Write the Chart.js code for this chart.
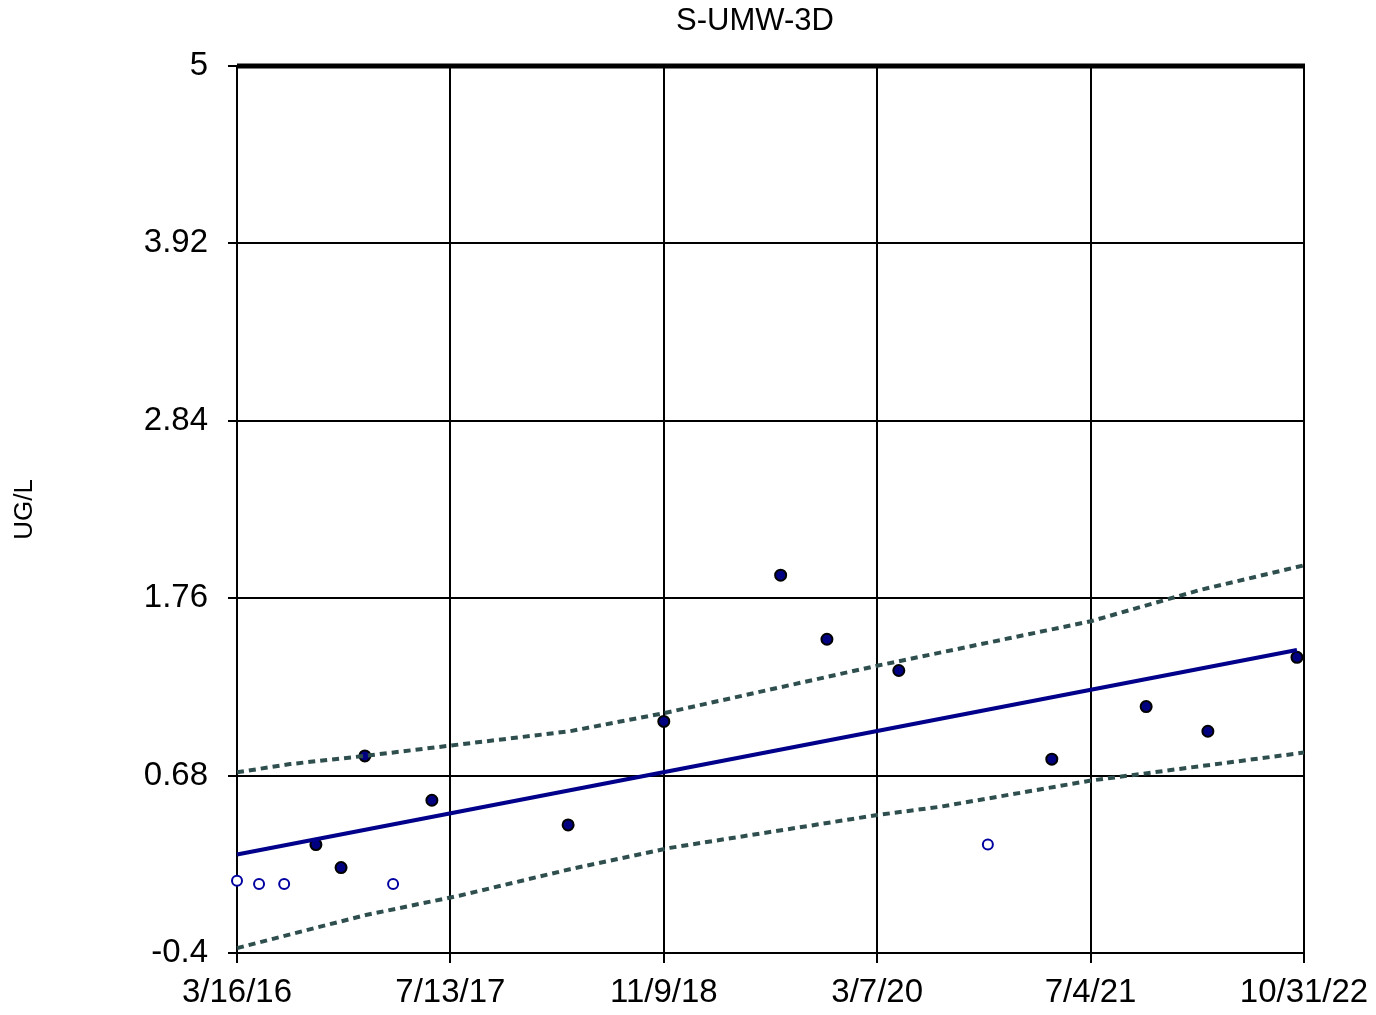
<!DOCTYPE html>
<html>
<head>
<meta charset="utf-8">
<script src="https://cdn.jsdelivr.net/npm/chart.js@4/dist/chart.umd.min.js"></script>
<style>
  html, body { margin: 0; padding: 0; background: #fff; }
  #wrap { width: 1376px; height: 1015px; }
</style>
</head>
<body>
<div id="wrap"><canvas id="chart-container" width="1376" height="1015"></canvas></div>
<script>
// x values are days since 3/16/16
const xTickDays = [0, 484, 968, 1452, 1936, 2420];
const xTickLabels = ['3/16/16', '7/13/17', '11/9/18', '3/7/20', '7/4/21', '10/31/22'];
const yTicks = [-0.4, 0.68, 1.76, 2.84, 3.92, 5];

// detected results
const detDays = [179, 236, 290, 442, 751, 968, 1233, 1338, 1501, 1848, 2062, 2202, 2404];
const detVals = [0.26, 0.12, 0.80, 0.53, 0.38, 1.01, 1.90, 1.51, 1.32, 0.78, 1.10, 0.95, 1.40];

// non-detects
const ndDays = [0, 50, 107, 354, 1703];
const ndVals = [0.04, 0.02, 0.02, 0.02, 0.26];

// trend line
const trendDays = [0, 2404];
const trendVals = [0.20, 1.445];

// confidence band
const upDays = [0, 120, 290, 506, 755, 968, 1454, 1937, 2184, 2420];
const upVals = [0.70, 0.75, 0.80, 0.87, 0.95, 1.06, 1.35, 1.62, 1.81, 1.96];
const loDays = [0, 290, 506, 755, 982, 1452, 1594, 1937, 2420];
const loVals = [-0.37, -0.17, -0.05, 0.11, 0.24, 0.44, 0.49, 0.65, 0.82];

function pts(xs, ys) {
    return xs.map(function(x, i) { return {x: x, y: ys[i]}; });
}

const FONT = '"Liberation Sans", Arial, sans-serif';

// thick top frame line + chart title
const frameAndTitle = {
    id: 'frameAndTitle',
    afterDraw: function(chart) {
        const a = chart.chartArea;
        const c = chart.ctx;
        c.save();
        c.strokeStyle = '#000';
        c.lineWidth = 5;
        c.beginPath();
        c.moveTo(a.left, a.top);
        c.lineTo(a.right + 1, a.top);
        c.stroke();
        c.fillStyle = '#000';
        c.font = '31px ' + FONT;
        c.textAlign = 'center';
        c.textBaseline = 'middle';
        c.fillText('S-UMW-3D', 755, 21);
        c.restore();
    }
};

document.addEventListener('DOMContentLoaded', function() {
    const ctx = document.getElementById('chart-container').getContext('2d');
    new Chart(ctx, {
        type: 'scatter',
        data: {
            datasets: [
                {
                    type: 'line',
                    data: pts(upDays, upVals),
                    borderColor: '#2F4F4F',
                    borderWidth: 4,
                    borderDash: [7, 5],
                    pointRadius: 0,
                    tension: 0,
                    clip: false
                },
                {
                    type: 'line',
                    data: pts(loDays, loVals),
                    borderColor: '#2F4F4F',
                    borderWidth: 4,
                    borderDash: [7, 5],
                    pointRadius: 0,
                    tension: 0,
                    clip: false
                },
                {
                    type: 'line',
                    data: pts(trendDays, trendVals),
                    borderColor: '#00008B',
                    borderWidth: 4,
                    pointRadius: 0,
                    tension: 0,
                    clip: false
                },
                {
                    data: pts(detDays, detVals),
                    backgroundColor: '#000080',
                    borderColor: '#000',
                    borderWidth: 2,
                    pointRadius: 5.5,
                    clip: false
                },
                {
                    data: pts(ndDays, ndVals),
                    backgroundColor: '#fff',
                    borderColor: '#0000A0',
                    borderWidth: 2,
                    pointRadius: 5,
                    clip: false
                }
            ]
        },
        options: {
            responsive: false,
            animation: false,
            layout: { padding: { top: 66, right: 72, bottom: 0, left: 0 } },
            plugins: {
                legend: { display: false },
                tooltip: { enabled: false },
                title: { display: false }
            },
            scales: {
                x: {
                    type: 'linear',
                    min: 0,
                    max: 2420,
                    afterBuildTicks: function(scale) {
                        scale.ticks = xTickDays.map(function(v) { return {value: v}; });
                    },
                    afterFit: function(scale) {
                        scale.height = 62;
                        scale.paddingLeft = 0;
                        scale.paddingRight = 0;
                    },
                    ticks: {
                        color: '#000',
                        font: { family: FONT, size: 33 },
                        padding: 10,
                        maxRotation: 0,
                        autoSkip: false,
                        callback: function(v) {
                            const i = xTickDays.indexOf(v);
                            return i >= 0 ? xTickLabels[i] : '';
                        }
                    },
                    grid: { color: '#000', lineWidth: 2, tickLength: 10 },
                    border: { color: '#000', width: 2 }
                },
                y: {
                    min: -0.4,
                    max: 5,
                    afterBuildTicks: function(scale) {
                        scale.ticks = yTicks.map(function(v) { return {value: v}; });
                    },
                    afterFit: function(scale) { scale.width = 237; },
                    ticks: {
                        color: '#000',
                        font: { family: FONT, size: 33 },
                        padding: 20,
                        callback: function(v) { return String(v); }
                    },
                    grid: { color: '#000', lineWidth: 2, tickLength: 9 },
                    border: { color: '#000', width: 2 },
                    title: {
                        display: true,
                        text: 'UG/L',
                        color: '#000',
                        font: { family: FONT, size: 26 },
                        padding: { top: 9, bottom: 0 }
                    }
                }
            }
        },
        plugins: [frameAndTitle]
    });
});
</script>
</body>
</html>
